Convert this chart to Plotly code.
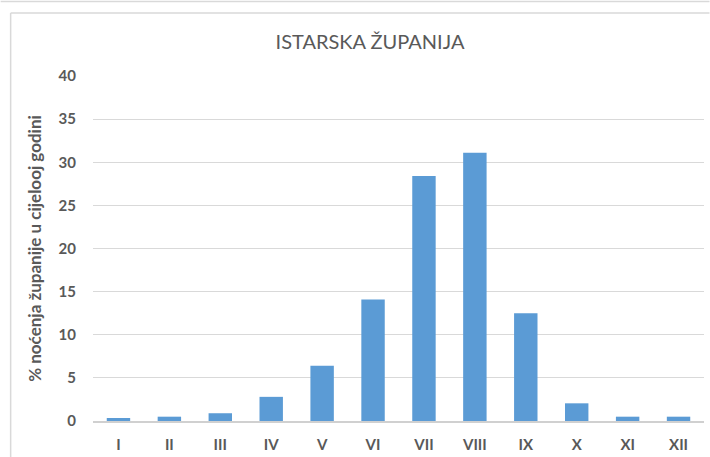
import plotly.graph_objects as go

months = ["I", "II", "III", "IV", "V", "VI", "VII", "VIII", "IX", "X", "XI", "XII"]
values = [0.35, 0.5, 0.9, 2.8, 6.4, 14.1, 28.4, 31.1, 12.5, 2.05, 0.5, 0.5]
y_ticks = [0, 5, 10, 15, 20, 25, 30, 35, 40]

title_text = "ISTARSKA ŽUPANIJA"
y_title = "% noćenja županije u cijelooj godini"

W, H = 710, 457
L, R, T, B = 92.5, 5.5, 76, 36
pw, ph = W - L - R, H - T - B

def px(x):
    return (x - L) / pw

def py(y):
    return (H - B - y) / ph

fig = go.Figure(go.Bar(
    x=months, y=values,
    marker=dict(color="#5b9bd5", line=dict(width=0)),
    width=0.46,
))

gray = "#595959"
fig.update_layout(
    width=W, height=H,
    margin=dict(l=L, r=R, t=T, b=B, autoexpand=False),
    paper_bgcolor="white", plot_bgcolor="white",
    showlegend=False,
    title=dict(text=title_text, x=px(370), xref="paper", xanchor="center",
               y=1 - 42 / H, yanchor="middle",
               font=dict(family="Lato", size=20, color=gray)),
    font=dict(family="Lato", color=gray),
    xaxis=dict(showgrid=False, showline=True, linecolor="#d0d0d0", linewidth=1.5,
               tickfont=dict(family="Lato", size=15, color=gray, weight="bold"),
               ticks="", ticklabelstandoff=9, fixedrange=True),
    yaxis=dict(range=[0, 40], tickvals=y_ticks, showgrid=True, gridcolor="#d9d9d9",
               gridwidth=1, zeroline=False, showline=False, ticks="",
               ticklabelstandoff=16,
               tickfont=dict(family="Lato", size=15, color=gray, weight="bold"),
               title=dict(text=y_title, standoff=12,
                          font=dict(family="Lato", size=17, color=gray, weight="bold"))),
)

# Outer frame lines (paper coordinates)
fig.add_shape(type="line", xref="paper", yref="paper",
              x0=px(0), x1=px(W), y0=py(1.5), y1=py(1.5),
              line=dict(color="#d9d9d9", width=1.5))
fig.add_shape(type="line", xref="paper", yref="paper",
              x0=px(10), x1=px(W), y0=py(13), y1=py(13),
              line=dict(color="#d9d9d9", width=1.5))
fig.add_shape(type="line", xref="paper", yref="paper",
              x0=px(10), x1=px(10), y0=py(13), y1=py(H),
              line=dict(color="#d9d9d9", width=1.5))

fig.write_html("out.html", config={"displayModeBar": False},
               post_script="document.body.style.margin='0';document.body.style.padding='0';")
